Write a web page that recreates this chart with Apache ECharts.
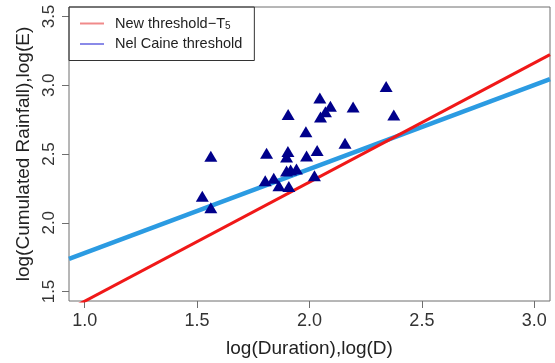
<!DOCTYPE html>
<html>
<head>
<meta charset="utf-8">
<script src="https://cdn.jsdelivr.net/npm/echarts@6/dist/echarts.min.js"></script>
<style>
  html, body { margin: 0; padding: 0; background: #fff; }
  #chart { width: 555px; height: 363px; }
</style>
</head>
<body>
<div id="chart"></div>
<script>
  // observed events: log(D), log(E)
  var logD = [1.523, 1.561, 1.561, 1.803, 1.841, 1.864, 1.809, 1.898, 1.916, 1.942,
    1.908, 1.904, 1.898, 1.987, 2.034, 2.022, 1.905, 1.984, 2.046, 2.093,
    2.071, 2.049, 2.194, 2.341, 2.375, 2.158]
  var logE = [2.193, 2.109, 2.484, 2.305, 2.324, 2.269, 2.505, 2.376, 2.384, 2.391,
    2.264, 2.519, 2.479, 2.486, 2.526, 2.341, 2.788, 2.662, 2.907, 2.848,
    2.807, 2.769, 2.841, 2.991, 2.784, 2.579]

  // threshold lines (end points read at the plot edges)
  var newThrX = [0.93, 3.07]
  var newThrY = [1.369, 3.223]
  var caineX = [0.93, 3.07]
  var caineY = [1.738, 3.044]

  var xTicks = [1.0, 1.5, 2.0, 2.5, 3.0]
  var yTicks = [1.5, 2.0, 2.5, 3.0, 3.5]

  function pairs(xs, ys) {
    return xs.map(function (x, i) { return [x, ys[i]] })
  }

  var myChart = echarts.init(document.getElementById('chart'))
  myChart.setOption({
    animation: false,
    textStyle: { fontFamily: 'Liberation Sans, Arial, sans-serif' },
    grid: {
      left: 69, right: 5, top: 7, bottom: 56,
      show: true, borderColor: '#6e6e6e', borderWidth: 1, backgroundColor: '#fff'
    },
    legend: {
      left: 69, top: 7,
      orient: 'vertical',
      padding: [9, 12, 9, 11],
      itemGap: 5,
      itemWidth: 24, itemHeight: 2,
      icon: 'rect',
      borderColor: '#333', borderWidth: 1,
      textStyle: {
        fontSize: 14.5, color: '#222', padding: [0, 0, 0, 6],
        rich: { sub: { fontSize: 10, padding: [6, 0, 0, 0], color: '#222' } }
      },
      formatter: function (name) {
        return name === 'New threshold-T5' ? 'New threshold\u2212T{sub|5}' : name
      },
      data: [
        { name: 'New threshold-T5', itemStyle: { color: '#f08a8a' } },
        { name: 'Nel Caine threshold', itemStyle: { color: '#8a8ae8' } }
      ]
    },
    xAxis: {
      type: 'value', min: 0.93, max: 3.07,
      name: 'log(Duration),log(D)', nameLocation: 'middle', nameGap: 38,
      nameTextStyle: { fontSize: 19, color: '#222' },
      splitLine: { show: false },
      axisLine: { show: false },
      axisTick: { show: true, length: 7, lineStyle: { color: '#6e6e6e' }, customValues: xTicks },
      axisLabel: {
        fontSize: 18, color: '#333', margin: 11, customValues: xTicks,
        formatter: function (v) { return v.toFixed(1) }
      }
    },
    yAxis: {
      type: 'value', min: 1.431, max: 3.569,
      name: 'log(Cumulated Rainfall),log(E)', nameLocation: 'middle', nameGap: 36,
      nameTextStyle: { fontSize: 19, color: '#222' },
      splitLine: { show: false },
      axisLine: { show: false },
      axisTick: { show: true, length: 7, lineStyle: { color: '#6e6e6e' }, customValues: yTicks },
      axisLabel: {
        fontSize: 17, color: '#333', margin: 11, rotate: 90, customValues: yTicks,
        formatter: function (v) { return v.toFixed(1) }
      }
    },
    series: [
      {
        name: 'New threshold-T5', type: 'line', showSymbol: false, clip: true,
        lineStyle: { color: '#f01818', width: 3 }, color: '#f01818',
        data: pairs(newThrX, newThrY), z: 3
      },
      {
        name: 'Nel Caine threshold', type: 'line', showSymbol: false, clip: true,
        lineStyle: { color: '#2b9be2', width: 4.5 }, color: '#2b9be2',
        data: pairs(caineX, caineY), z: 2
      },
      {
        name: 'events', type: 'scatter', symbol: 'triangle', symbolSize: [13, 11],
        itemStyle: { color: '#00008b', opacity: 1 },
        data: pairs(logD, logE), z: 4
      }
    ]
  })
</script>
</body>
</html>
